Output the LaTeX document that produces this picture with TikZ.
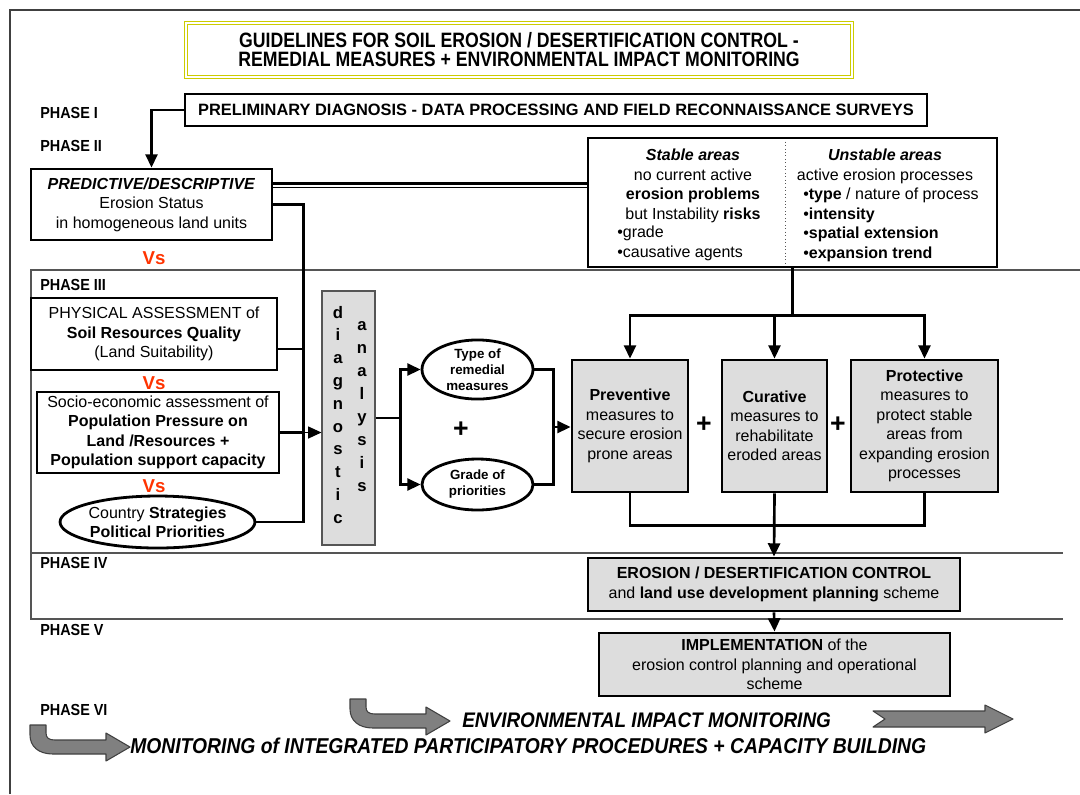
\documentclass[tikz,border=0pt]{standalone}
\usepackage{fontspec}
\setmainfont{Liberation Sans}
\newfontfamily\narrowfont[FakeStretch=0.9]{Liberation Sans}
\newfontfamily\titlefont[FakeStretch=0.85]{Liberation Sans}
\usetikzlibrary{arrows.meta,calc,shapes.geometric,positioning}

\definecolor{boxgray}{HTML}{DDDDDD}
\definecolor{vsred}{HTML}{FF3300}
\definecolor{titleyellow}{HTML}{CCCC00}
\definecolor{arrowgray}{HTML}{808080}
\definecolor{arrowdark}{HTML}{404040}
\definecolor{rulegray}{HTML}{555555}

\tikzset{
  boxsize/.style 2 args={minimum width=#1*0.75pt, minimum height=#2*0.75pt},
  txt/.style={font=\fontsize{12}{14.6}\selectfont, align=center, inner sep=0pt},
  box/.style={draw, line width=2.1pt, txt},
  graybox/.style={box, fill=boxgray},
  oval/.style={ellipse, draw, line width=2.1pt, txt},
  conn/.style={line width=2pt},
  arr/.style={conn, -{Triangle[length=10pt,width=9pt]}},
  thinline/.style={rulegray, line width=0.9pt},
  phase/.style={anchor=west, inner sep=0pt, font=\narrowfont\bfseries\fontsize{12}{14}\selectfont},
  vs/.style={text=vsred, inner sep=0pt, font=\bfseries\fontsize{14}{14}\selectfont},
  plus/.style={inner sep=0pt, font=\bfseries\fontsize{20}{20}\selectfont},
  letter/.style={anchor=base, inner sep=0pt, font=\bfseries\fontsize{12.5}{12}\selectfont},
  bigarrow/.style={fill=arrowgray, draw=arrowdark, line width=0.8pt, line join=round},
  mon/.style={anchor=west, inner sep=0pt, font=\narrowfont\bfseries\itshape\fontsize{15.8}{16}\selectfont},
}

\begin{document}
\begin{tikzpicture}[x=0.75pt, y=-0.75pt]
  \useasboundingbox (0,0) rectangle (1080,794);

  % frame and phase rules
  \draw[line width=1.2pt, arrowdark] (10,794) -- (10,10) -- (1080,10);
  \draw[thinline] (1080,270) -- (31,270) -- (31,619) -- (1063,619);
  \draw[thinline] (31,553) -- (1063,553);

  % title
  \node[draw=titleyellow, double, double distance=1.6pt, line width=0.7pt, boxsize={666}{54},
        align=center, font=\titlefont\bfseries\fontsize{15.6}{14.3}\selectfont] (title) at (519,50)
    {GUIDELINES FOR SOIL EROSION / DESERTIFICATION CONTROL -\\
     REMEDIAL MEASURES + ENVIRONMENTAL IMPACT MONITORING};

  % phase labels
  \node[phase] (ph1) at (40,113) {PHASE I};
  \node[phase] (ph2) at (40,146) {PHASE II};
  \node[phase] (ph3) at (40,285) {PHASE III};
  \node[phase] (ph4) at (40,563) {PHASE IV};
  \node[phase] (ph5) at (40,630) {PHASE V};
  \node[phase] (ph6) at (40,710) {PHASE VI};

  % phase I / II
  \node[box, boxsize={742}{32}, font=\bfseries\fontsize{12.3}{14}\selectfont] (prelim) at (556,110)
    {PRELIMINARY DIAGNOSIS - DATA PROCESSING AND FIELD RECONNAISSANCE SURVEYS};
  \node[box, boxsize={241}{71}] (pred) at (151.5,204.5)
    {\textbf{\textit{PREDICTIVE/DESCRIPTIVE}}\\Erosion Status\\in homogeneous land units};
  \node[box, boxsize={409}{129}] (areas) at (792.5,202.5) {};
  \draw[rulegray, dotted, line width=0.6pt] ($(areas.north)+(-7,5)$) -- ($(areas.south)+(-7,-3)$);
  \node[txt, anchor=north] (stable) at (693,149)
    {\textbf{\textit{Stable areas}}\\no current active\\\textbf{erosion problems}\\but Instability \textbf{risks}};
  \node[txt, align=left, anchor=north west] (stablelist) at (617,226)
    {•grade\\•causative agents};
  \node[txt, anchor=north] (unstable) at (885,149)
    {\textbf{\textit{Unstable areas}}\\active erosion processes};
  \node[txt, align=left, anchor=north west] (unstablelist) at (803,188)
    {•\textbf{type} / nature of process\\•\textbf{intensity}\\•\textbf{spatial extension}\\•\textbf{expansion trend}};

  \node[vs] (vs1) at (154,258) {Vs};

  % phase III, left column
  \node[box, boxsize={246}{72}] (phys) at (154,334)
    {PHYSICAL ASSESSMENT of\\\textbf{Soil Resources Quality}\\(Land Suitability)};
  \node[vs] (vs2) at (154,383) {Vs};
  \node[box, boxsize={242}{81}] (socio) at (158,432.5)
    {Socio-economic assessment of\\\textbf{Population Pressure on}\\\textbf{Land /Resources +}\\\textbf{Population support capacity}};
  \node[vs] (vs3) at (154,486) {Vs};
  \node[oval, boxsize={189}{52}] (country) at (157.5,522)
    {Country \textbf{Strategies}\\\textbf{Political Priorities}};

  % diagnostic analysis bar
  \node[fill=boxgray, draw=rulegray, line width=0.8pt, boxsize={53}{254}] (diag) at (348.5,418) {};
  \foreach \ch [count=\i] in {d,i,a,g,n,o,s,t,i,c}
    \node[letter] (diag-\i) at (338,{313+(\i-1)*22.8+5}) {\ch};
  \foreach \ch [count=\i] in {a,n,a,l,y,s,i,s}
    \node[letter] (ana-\i) at (362,{325+(\i-1)*23+5}) {\ch};

  \node[oval, boxsize={111}{53}, font=\bfseries\fontsize{10}{12}\selectfont] (type) at (477.5,369.5)
    {Type of\\remedial\\measures};
  \node[plus] (plus1) at (461,430) {+};
  \node[oval, boxsize={111}{51}, font=\bfseries\fontsize{10}{12}\selectfont] (grade) at (477.5,484.5)
    {Grade of\\priorities};

  % measures
  \node[graybox, boxsize={116}{132}] (prev) at (630,426)
    {\textbf{Preventive}\\measures to\\secure erosion\\prone areas};
  \node[plus] (plus2) at (704,425) {+};
  \node[graybox, boxsize={105}{132}] (cur) at (774.5,426)
    {\textbf{Curative}\\measures to\\rehabilitate\\eroded areas};
  \node[plus] (plus3) at (838,425) {+};
  \node[graybox, boxsize={147}{132}] (prot) at (924.5,426)
    {\textbf{Protective}\\measures to\\protect stable\\areas from\\expanding erosion\\processes};

  % phase IV / V
  \node[graybox, boxsize={372}{53}] (control) at (774,584.5)
    {\textbf{EROSION / DESERTIFICATION CONTROL}\\and \textbf{land use development planning} scheme};
  \node[graybox, boxsize={351}{63}] (impl) at (774.5,664.5)
    {\textbf{IMPLEMENTATION} of the\\erosion control planning and operational\\scheme};

  % connectors
  \draw[arr] (prelim.west) -| (pred.north);
  \draw[conn] ([yshift=15.6pt]pred.east) -- ([yshift=15.6pt]pred.east -| areas.west);
  \draw[line width=0.9pt] ([yshift=12.7pt]pred.east) -- ([yshift=12.7pt]pred.east -| areas.west);
  \draw[conn] (pred.east) -- ++(30,0) coordinate (bus) |- (country.east);
  \draw[line width=0.9pt] (phys.east) ++(0,15) -- ++(25,0);
  \draw[conn] (socio.east) -- ++(23,0) coordinate (socio-bus);
  \draw[line width=0.9pt, -{Triangle[length=10pt,width=9pt]}] (socio-bus) -- (socio-bus -| diag.west);
  \draw[conn] (diag.east) -- ++(25,0) coordinate (split);
  \draw[arr] (split) |- (type.west);
  \draw[arr] (split) |- (grade.west);
  \draw[conn] (type.east) -- ++(19,0) |- (grade.east);
  \coordinate (merge) at ($(type.east)!0.5!(grade.east)+(19,0)$);
  \draw[arr] (merge) -- (merge -| prev.west);
  \draw[conn] (areas.south) -- ++(0,47) coordinate (fork);
  \draw[arr] (fork) -| (prev.north);
  \draw[arr] (fork) -| (prot.north);
  \draw[arr] (cur.north |- fork) -- (cur.north);
  \draw[conn] (prev.south) -- ++(0,32) -| (prot.south);
  \draw[arr] (cur.south) -- (control.north);
  \draw[arr] (control.south) -- (impl.north);

  % phase VI
  \foreach \sx/\sy in {350/699, 30/725}
    \filldraw[bigarrow, shift={(\sx,\sy)}] (0,0) -- (16,0) -- (16,8)
      .. controls (16,13) and (19,15) .. (25,15) -- (76,15) -- (76,8) -- (100,22)
      -- (76,36) -- (76,29) -- (23,29) .. controls (8,29) and (0,21) .. (0,10) -- cycle;
  \filldraw[bigarrow] (873,711) -- (985,711) -- (985,705) -- (1013,719) -- (985,733)
    -- (985,727) -- (873,727) -- (885,719) -- cycle;
  \node[mon] (envmon) at (462,720) {ENVIRONMENTAL IMPACT MONITORING};
  \node[mon, font=\narrowfont\bfseries\itshape\fontsize{16.1}{16}\selectfont] (partmon) at (130,746)
    {MONITORING of INTEGRATED PARTICIPATORY PROCEDURES + CAPACITY BUILDING};
\end{tikzpicture}
\end{document}
